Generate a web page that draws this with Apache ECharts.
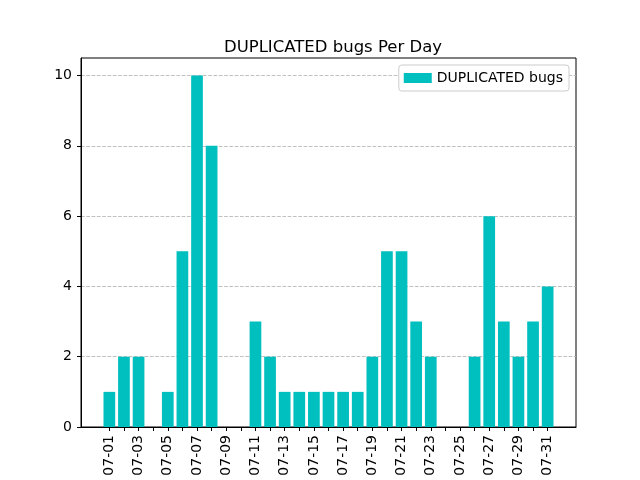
<!DOCTYPE html>
<html>
<head>
  <meta charset="UTF-8">
  <script src="https://cdn.jsdelivr.net/npm/echarts@6/dist/echarts.min.js"></script>
</head>
<body style="margin:0">
  <div id="main" style="width:640px;height:480px;"></div>
  <script>
    // daily counts, July
    var days = ['07-01','07-02','07-03','07-04','07-05','07-06','07-07','07-08','07-09','07-10',
                '07-11','07-12','07-13','07-14','07-15','07-16','07-17','07-18','07-19','07-20',
                '07-21','07-22','07-23','07-24','07-25','07-26','07-27','07-28','07-29','07-30','07-31'];
    var counts = [1,2,2,0,1,5,10,8,0,0,
                  3,2,1,1,1,1,1,1,2,5,
                  5,3,2,0,0,2,6,3,2,3,4];
    var yTicks = [0,2,4,6,8,10];

    var tickIdx = [], labelIdx = [];
    for (var i = 0; i < days.length; i++) {
      tickIdx.push(i);
      if (i % 2 === 0) labelIdx.push(i);
    }

    var chart = echarts.init(document.getElementById('main'));
    chart.setOption({
      animation: false,
      textStyle: { fontFamily: 'DejaVu Sans' },
      title: {
        text: 'DUPLICATED bugs Per Day',
        left: 328, top: 34, textAlign: 'center',
        textStyle: { fontSize: 16.5, fontWeight: 'normal', color: '#000', fontFamily: 'DejaVu Sans' }
      },
      legend: {
        right: 71, top: 65,
        icon: 'rect',
        itemWidth: 28, itemHeight: 10, itemGap: 8,
        padding: [6, 6, 6, 5],
        borderColor: '#cccccc', borderWidth: 1, borderRadius: 3,
        backgroundColor: '#fff',
        textStyle: { fontSize: 14, color: '#000', fontFamily: 'DejaVu Sans' },
        data: ['DUPLICATED bugs']
      },
      grid: {
        left: 81, right: 64, top: 58, bottom: 53,
        show: true, borderColor: '#000', borderWidth: 1
      },
      xAxis: {
        type: 'value',
        min: -1.94, max: 31.94,
        splitLine: { show: false },
        axisLine: { show: true, onZero: false, lineStyle: { color: '#000' } },
        axisTick: { show: true, length: 4, customValues: tickIdx, lineStyle: { color: '#000' } },
        axisLabel: {
          customValues: labelIdx,
          rotate: 90, fontSize: 14, color: '#000', margin: 8,
          formatter: function (v) { return days[Math.round(v)] || ''; }
        }
      },
      yAxis: {
        type: 'value',
        min: 0, max: 10.5,
        axisLine: { show: true, onZero: false, lineStyle: { color: '#000' } },
        axisTick: { show: true, length: 4, customValues: yTicks, lineStyle: { color: '#000' } },
        axisLabel: { customValues: yTicks, fontSize: 14, color: '#000', margin: 9 },
        splitLine: { show: true, lineStyle: { color: '#b0b0b0', type: [3.7, 1.6], width: 0.8 } }
      },
      series: [{
        name: 'DUPLICATED bugs',
        type: 'bar',
        barWidth: 11.7,
        itemStyle: { color: '#00bfbf' },
        data: counts.map(function (c, i) { return [i, c]; })
      }]
    });
  </script>
</body>
</html>
